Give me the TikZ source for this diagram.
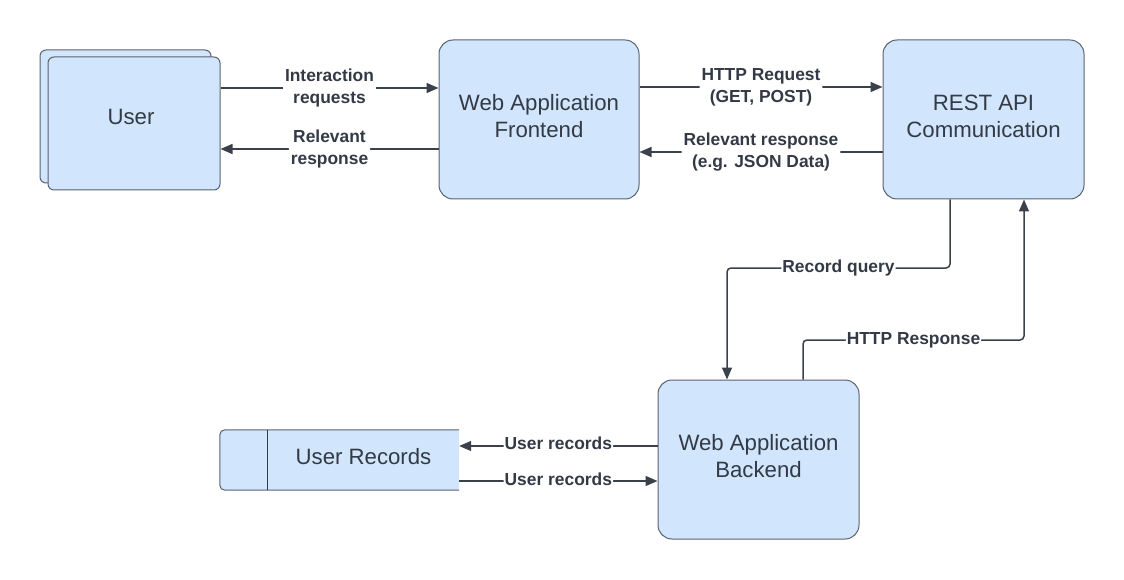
\documentclass[tikz,border=0pt]{standalone}
\usepackage{fontspec}
\setmainfont{Liberation Sans}
\usetikzlibrary{arrows.meta,calc}
\definecolor{boxfill}{HTML}{D1E5FC}
\definecolor{boxline}{HTML}{5A6270}
\definecolor{wire}{HTML}{3A414B}
\definecolor{ink}{HTML}{333A45}
\tikzset{
  box/.style={draw=boxline, fill=boxfill, line width=1pt, rounded corners=14pt, inner sep=0pt},
  boxtext/.style={text=ink, font=\fontsize{22.2}{27}\selectfont, align=center},
  lbl/.style={fill=white, text=ink, font=\fontsize{17.4}{22}\selectfont\bfseries, align=center, inner sep=2pt},
  conn/.style={draw=wire, line width=1.5pt, -{Triangle[length=12pt,width=10pt]}, rounded corners=4pt},
}
\begin{document}
\begin{tikzpicture}[x=1pt,y=-1pt]
\useasboundingbox (0,0) rectangle (1124,580);
% User stack
\node[box, rounded corners=6pt, minimum width=171pt, minimum height=133pt] (userback) at (125.5,116.5) {};
\node[box, rounded corners=6pt, minimum width=172pt, minimum height=133pt] (user) at (134,123.5) {};
\node[boxtext] (usert) at (131,117) {User};
% Frontend
\node[box, minimum width=200pt, minimum height=159pt] (fe) at (539,119.5) {};
\node[boxtext] (fet) at (539,116.5) {Web Application\\Frontend};
% REST
\node[box, minimum width=201pt, minimum height=159pt] (rest) at (983.5,119.5) {};
\node[boxtext] (restt) at (983.5,116.5) {REST API\\Communication};
% Backend
\node[box, minimum width=201pt, minimum height=159pt] (be) at (758.5,459.5) {};
\node[boxtext] (bet) at (758.5,456.5) {Web Application\\Backend};
% User Records (data store, open on right)
\node[minimum width=239pt, minimum height=60pt, inner sep=0pt] (rec) at (339.5,460) {};
\path[draw=boxline, fill=boxfill, line width=1pt, rounded corners=5pt]
  (rec.north east) -- (rec.north west) -- (rec.south west) -- (rec.south east);
\draw[draw=ink, line width=0.8pt] ($(rec.north west)+(47.5,0)$) -- ($(rec.south west)+(47.5,0)$);
\node[boxtext] (rect) at (363.5,457) {User Records};
% Connectors User <-> Frontend
\draw[conn] (user.east |- 0,88) -- node[lbl] {Interaction\\requests} (fe.west |- 0,88);
\draw[conn] (fe.west |- 0,149) -- node[lbl] {Relevant\\response} (user.east |- 0,149);
% Frontend <-> REST
\draw[conn] (fe.east |- 0,87) -- node[lbl] {HTTP Request\\(GET, POST)} (rest.west |- 0,87);
\draw[conn] (rest.west |- 0,152) -- node[lbl] {Relevant response\\(e.g. JSON Data)} (fe.east |- 0,152);
% REST -> Backend
\coordinate (q1) at (950,268);
\coordinate (q2) at (727,268);
\draw[conn] (rest.south -| q1) -- (q1) -- node[lbl, inner sep=1pt] {Record query} (q2) -- (be.north -| q2);
% Backend -> REST
\coordinate (r1) at (803,340);
\coordinate (r2) at (1024,340);
\draw[conn] (be.north -| r1) -- (r1) -- node[lbl, inner sep=1pt] {HTTP Response} (r2) -- (rest.south -| r2);
% Backend <-> User Records
\draw[conn] (be.west |- 0,446) -- node[lbl, inner sep=1pt, yshift=3pt] {User records} (rec.east |- 0,446);
\draw[conn] (rec.east |- 0,481) -- node[lbl, inner sep=1pt, yshift=1.5pt] {User records} (be.west |- 0,481);
\end{tikzpicture}
\end{document}
